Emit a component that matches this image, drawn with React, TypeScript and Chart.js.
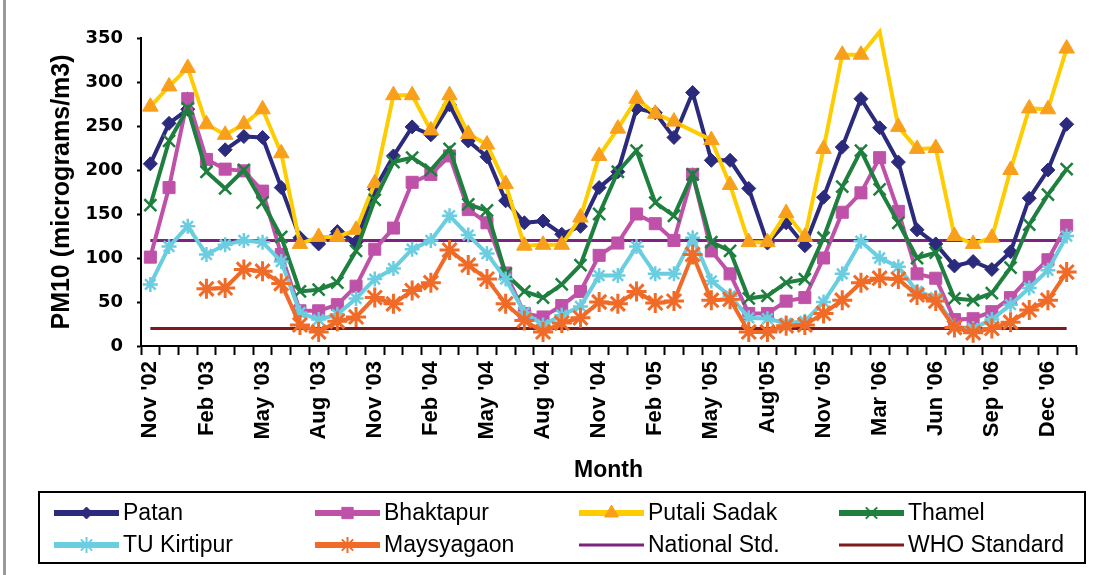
import React, { useEffect, useRef } from 'react';
import { Chart, registerables } from 'chart.js';
import { drawPoint } from 'chart.js/helpers';

Chart.register(...registerables);

// Month categories (Jan '06 is absent in the source series)
const months = [
  "Nov '02", "Dec '02",
  "Jan '03", "Feb '03", "Mar '03", "Apr '03", "May '03", "Jun '03", "Jul '03", "Aug '03", "Sep '03", "Oct '03", "Nov '03", "Dec '03",
  "Jan '04", "Feb '04", "Mar '04", "Apr '04", "May '04", "Jun '04", "Jul '04", "Aug '04", "Sep '04", "Oct '04", "Nov '04", "Dec '04",
  "Jan '05", "Feb '05", "Mar '05", "Apr '05", "May '05", "Jun '05", "Jul '05", "Aug'05", "Sep '05", "Oct '05", "Nov '05", "Dec '05",
  "Feb '06", "Mar '06", "Apr '06", "May '06", "Jun '06", "Jul '06", "Aug '06", "Sep '06", "Oct '06", "Nov '06", "Dec '06",
  "Jan '07",
];

const patan = [207, 253, 269, null, 223, 238, 237, 180, 123, 116, 130, 118, 178, 216, 249, 240, 274, 233, 215, 165, 140, 142, 127, 136, 180, 198, 270, 265, 237, 288, 211, 211, 179, 117, 140, 114, 169, 226, 281, 248, 209, 132, 116, 91, 96, 87, 107, 168, 200, 252];
const bhaktapur = [101, 180, 281, 212, 201, 199, 176, 104, 40, 40, 47, 68, 110, 134, 186, 195, 216, 155, 140, 83, 37, 33, 46, 62, 103, 117, 150, 139, 120, 195, 108, 82, 37, 37, 51, 55, 100, 152, 174, 214, 153, 82, 77, 30, 31, 39, 55, 78, 98, 137];
const putaliSadak = [272, 295, 316, 252, 240, 252, 269, 219, 116, 124, 124, 132, 185, 285, 285, 245, 285, 241, 229, 184, 114, 115, 115, 146, 216, 247, 281, 264, 255, null, 234, 183, 118, 118, 151, 124, 224, 331, 331, 357, 249, 224, 225, 125, 116, 123, 200, 270, 269, 338];
const thamel = [160, 233, 270, 198, 179, 200, 163, 124, 62, 64, 72, 108, 166, 209, 214, 200, 224, 161, 154, 82, 62, 55, 70, 92, 150, 198, 222, 163, 148, 195, 118, 108, 54, 57, 72, 76, 123, 181, 222, 178, 140, 100, 106, 54, 52, 60, 89, 138, 172, 201];
const tuKirtipur = [70, 113, 136, 104, 115, 120, 118, 96, 38, 30, 36, 54, 76, 88, 110, 120, 148, 126, 105, 76, 38, 24, 35, 45, 80, 80, 113, 82, 82, 123, 74, 57, 32, 31, 26, 28, 50, 82, 119, 100, 90, 62, 55, 22, 20, 30, 47, 66, 86, 125];
const maysyagaon = [null, null, null, 65, 66, 87, 85, 71, 24, 16, 28, 33, 55, 48, 63, 72, 109, 92, 76, 48, 29, 16, 26, 32, 50, 48, 62, 49, 51, 104, 52, 53, 16, 16, 23, 24, 37, 52, 72, 77, 76, 58, 51, 21, 15, 20, 27, 41, 52, 84];
const nationalStd = 120;
const whoStandard = 20;

const yTicks = { min: 0, max: 350, step: 50 };

const C = {
  patan: '#2B2A7C',
  bhaktapur: '#BF52A8',
  putaliLine: '#FFCC00',
  putaliPoint: '#F8A01C',
  thamel: '#1E7F3E',
  tu: '#6BCDE0',
  mays: '#F06A28',
  national: '#7B237F',
  who: '#7E1B1B',
};

const legendItems = [
  { label: 'Patan', line: C.patan, point: C.patan, style: 'rectRot', r: 6, bw: 1 },
  { label: 'Bhaktapur', line: C.bhaktapur, point: C.bhaktapur, style: 'rect', r: 8, bw: 1 },
  { label: 'Putali Sadak', line: C.putaliLine, point: C.putaliPoint, style: 'triangle', r: 8, bw: 1 },
  { label: 'Thamel', line: C.thamel, point: C.thamel, style: 'crossRot', r: 8, bw: 2 },
  { label: 'TU Kirtipur', line: C.tu, point: C.tu, style: 'star', r: 8, bw: 2 },
  { label: 'Maysyagaon', line: C.mays, point: C.mays, style: 'star', r: 8, bw: 2 },
  { label: 'National Std.', line: C.national, point: null, style: null, r: 0, bw: 0 },
  { label: 'WHO Standard', line: C.who, point: null, style: null, r: 0, bw: 0 },
];

const legendPlugin = {
  id: 'boxLegend',
  afterDraw(chart: any) {
    const ctx = chart.ctx;
    ctx.save();
    ctx.strokeStyle = '#000';
    ctx.lineWidth = 2;
    ctx.strokeRect(39, 492, 1046, 71);
    const cols = [54, 315, 579, 839];
    const rows = [513, 545];
    legendItems.forEach((it, i) => {
      const x = cols[i % 4];
      const y = rows[Math.floor(i / 4)];
      ctx.strokeStyle = it.line;
      ctx.lineWidth = it.point ? 6 : 3;
      ctx.beginPath();
      ctx.moveTo(x, y);
      ctx.lineTo(x + 65, y);
      ctx.stroke();
      if (it.point && it.style) {
        ctx.fillStyle = it.point;
        ctx.strokeStyle = it.point;
        ctx.lineWidth = it.bw;
        drawPoint(ctx, { pointStyle: it.style, radius: it.r, rotation: 0, borderWidth: it.bw }, x + 32.5, y);
      }
      ctx.fillStyle = '#000';
      ctx.font = '23px "Liberation Sans", Arial, sans-serif';
      ctx.textBaseline = 'middle';
      ctx.textAlign = 'left';
      ctx.fillText(it.label, x + 69, y + 1);
    });
    ctx.restore();
  },
};

export default function App() {
  const ref = useRef<HTMLCanvasElement | null>(null);

  useEffect(() => {
    if (!ref.current) return;
    const series = (label: string, data: any[], line: string, point: string, style: string, radius: number, bw: number, order: number, extra: any = {}) => ({
      label,
      data,
      borderColor: line,
      backgroundColor: point,
      pointBackgroundColor: point,
      pointBorderColor: point,
      pointStyle: style,
      pointRadius: radius,
      pointBorderWidth: bw,
      borderWidth: 4,
      tension: 0,
      spanGaps: false,
      order,
      ...extra,
    });

    const chart = new Chart(ref.current, {
      type: 'line',
      data: {
        labels: months,
        datasets: [
          series('Patan', patan, C.patan, C.patan, 'rectRot', 7, 1, 6),
          series('Bhaktapur', bhaktapur, C.bhaktapur, C.bhaktapur, 'rect', 8.5, 1, 5),
          series('Putali Sadak', putaliSadak, C.putaliLine, C.putaliPoint, 'triangle', 8, 1, 4, {
            spanGaps: true,
            clip: false,
            pointRadius: (c: any) => (c.raw != null && c.raw > yTicks.max ? 0 : 9),
          }),
          series('Thamel', thamel, C.thamel, C.thamel, 'crossRot', 8.5, 2.5, 3),
          series('TU Kirtipur', tuKirtipur, C.tu, C.tu, 'star', 7.5, 2.5, 2),
          series('Maysyagaon', maysyagaon, C.mays, C.mays, 'star', 10, 3, 1),
          {
            label: 'National Std.',
            data: months.map(() => nationalStd),
            borderColor: C.national,
            borderWidth: 3,
            pointRadius: 0,
            order: 7,
          },
          {
            label: 'WHO Standard',
            data: months.map(() => whoStandard),
            borderColor: C.who,
            borderWidth: 3,
            pointRadius: 0,
            order: 8,
          },
        ],
      },
      options: {
        responsive: false,
        animation: false,
        events: [],
        layout: { padding: { top: 38, right: 29, bottom: 91, left: 0 } },
        plugins: {
          legend: { display: false },
          tooltip: { enabled: false },
        },
        scales: {
          x: {
            type: 'category',
            offset: true,
            grid: {
              display: true,
              offset: true,
              drawOnChartArea: false,
              drawTicks: true,
              tickLength: 9,
              tickWidth: 2,
              tickColor: '#000',
            },
            border: { display: true, color: '#000', width: 2 },
            ticks: {
              autoSkip: false,
              maxRotation: 90,
              minRotation: 90,
              padding: 6,
              color: '#000',
              font: { family: 'Liberation Sans', size: 22, weight: 'bold' },
              callback: (_v: any, i: number) => (i % 3 === 0 ? months[i] : ''),
            },
            title: {
              display: true,
              text: 'Month',
              color: '#000',
              font: { family: 'Liberation Sans', size: 23, weight: 'bold' },
              padding: 0,
            },
            afterFit: (s: any) => {
              s.height = 138;
            },
          },
          y: {
            min: yTicks.min,
            max: yTicks.max,
            ticks: {
              stepSize: yTicks.step,
              padding: 14,
              color: '#000',
              font: { family: 'DejaVu Sans', size: 18, weight: 'bold' },
            },
            grid: {
              display: true,
              drawOnChartArea: false,
              drawTicks: true,
              tickLength: 4,
              tickWidth: 2,
              tickColor: '#000',
            },
            border: { display: true, color: '#000', width: 2 },
            title: {
              display: true,
              text: 'PM10 (micrograms/m3)',
              color: '#000',
              font: { family: 'Liberation Sans', size: 25, weight: 'bold' },
              padding: { top: 47, bottom: 0 },
            },
            afterFit: (s: any) => {
              s.width = 141;
            },
          },
        },
      } as any,
      plugins: [legendPlugin],
    } as any);

    return () => chart.destroy();
  }, []);

  return (
    <div style={{ position: 'absolute', left: 0, top: 0, width: 1105, height: 575, background: '#fff' }}>
      <div style={{ position: 'absolute', left: 3, top: 0, width: 3, height: 575, background: '#9a9a9a' }} />
      <canvas ref={ref} width={1105} height={575} style={{ position: 'absolute', left: 0, top: 0, width: 1105, height: 575 }} />
    </div>
  );
}
